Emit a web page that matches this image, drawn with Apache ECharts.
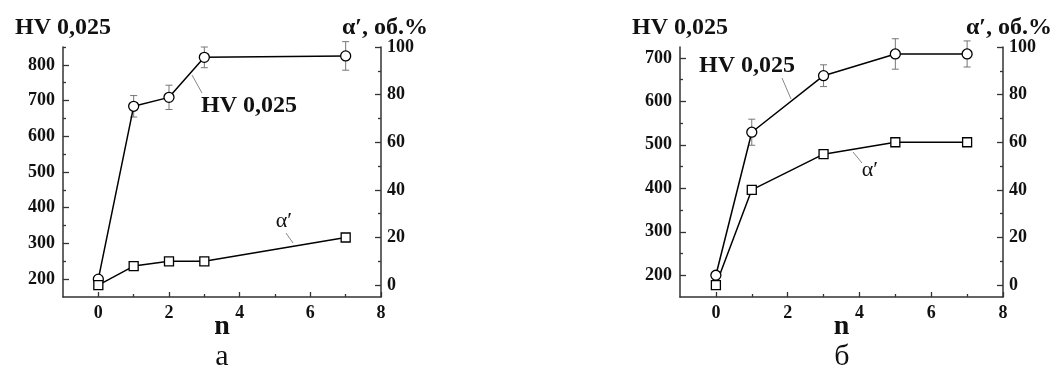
<!DOCTYPE html>
<html><head><meta charset="utf-8">
<script src="https://cdn.jsdelivr.net/npm/echarts@6/dist/echarts.min.js"></script>
<style>html,body{margin:0;padding:0;background:#fff}#c{width:1056px;height:369px}</style>
</head><body><div id="c"></div>
<script>
// ---- data ----
const nA = [0, 1, 2, 3, 7];
const hvA = [200, 684, 709, 821, 825];
const hvErrA = [0, 30, 34, 29, 40];
const alphaA = [0, 8, 10, 10, 20];

const nB = [0, 1, 3, 5, 7];
const hvB = [200, 529, 659, 709, 709];
const hvErrB = [0, 30, 25, 35, 30];
const alphaB = [0, 40, 55, 60, 60];

const xTicks = [0, 2, 4, 6, 8];
const xMinor = [1, 3, 5, 7];
const hvTicksA = [200, 300, 400, 500, 600, 700, 800];
const hvMinorA = [250, 350, 450, 550, 650, 750, 850];
const hvTicksB = [200, 300, 400, 500, 600, 700];
const hvMinorB = [250, 350, 450, 550, 650];
const alphaTicks = [0, 20, 40, 60, 80, 100];
const alphaMinor = [10, 30, 50, 70, 90];

// ---- style ----
const SERIF = "'Liberation Serif','Times New Roman',serif";
const AX = '#333';
const TXT = '#111';

function mainX(gi, name) {
  return {
    type: 'value', gridIndex: gi, position: 'bottom', offset: 0, min: -1, max: 8,
    axisLine: { show: true, onZero: false, lineStyle: { color: AX, width: 1.5 } },
    axisTick: { show: true, inside: true, length: 5, customValues: xTicks, lineStyle: { color: AX, width: 1.3 } },
    axisLabel: { show: true, customValues: xTicks, margin: 7, fontFamily: SERIF, fontWeight: 'bold', fontSize: 18, color: TXT },
    splitLine: { show: false },
    name: name, nameLocation: 'middle', nameGap: 16, nameMoveOverlap: false,
    nameTextStyle: { fontFamily: SERIF, fontWeight: 'bold', fontSize: 28, color: TXT }
  };
}
function minorX(gi) {
  return {
    type: 'value', gridIndex: gi, position: 'bottom', offset: 0, min: -1, max: 8,
    axisLine: { show: false, onZero: false },
    axisTick: { show: true, inside: true, length: 3, customValues: xMinor, lineStyle: { color: AX, width: 1.3 } },
    axisLabel: { show: false }, splitLine: { show: false }
  };
}
function mainY(gi, pos, min, max, ticks, name, margin, pad) {
  return {
    type: 'value', gridIndex: gi, position: pos, offset: 0, min: min, max: max,
    axisLine: { show: true, onZero: false, lineStyle: { color: AX, width: 1.5 } },
    axisTick: { show: true, inside: true, length: 6, customValues: ticks, lineStyle: { color: AX, width: 1.3 } },
    axisLabel: { show: true, customValues: ticks, margin: margin, fontFamily: SERIF, fontWeight: 'bold', fontSize: 18, color: TXT },
    splitLine: { show: false },
    name: name, nameLocation: 'end', nameGap: 7, nameMoveOverlap: false,
    nameTextStyle: { fontFamily: SERIF, fontWeight: 'bold', fontSize: 24, color: TXT, align: 'center', padding: pad }
  };
}
function minorY(gi, pos, min, max, ticks) {
  return {
    type: 'value', gridIndex: gi, position: pos, offset: 0, min: min, max: max,
    axisLine: { show: false, onZero: false },
    axisTick: { show: true, inside: true, length: 3, customValues: ticks, lineStyle: { color: AX, width: 1.3 } },
    axisLabel: { show: false }, splitLine: { show: false }
  };
}
function pairs(xs, ys) { return xs.map((x, i) => [x, ys[i]]); }

function hvSeries(xi, yi, xs, ys) {
  return {
    type: 'line', xAxisIndex: xi, yAxisIndex: yi, data: pairs(xs, ys),
    symbol: 'circle', symbolSize: 10, showSymbol: true,
    itemStyle: { color: '#fff', borderColor: '#000', borderWidth: 1.3 },
    lineStyle: { color: '#000', width: 1.5 }, z: 3, animation: false, silent: true
  };
}
function alphaSeries(xi, yi, xs, ys) {
  return {
    type: 'line', xAxisIndex: xi, yAxisIndex: yi, data: pairs(xs, ys),
    symbol: 'rect', symbolSize: 9, showSymbol: true,
    itemStyle: { color: '#fff', borderColor: '#000', borderWidth: 1.3 },
    lineStyle: { color: '#000', width: 1.5 }, z: 3, animation: false, silent: true
  };
}
function errSeries(xi, yi, xs, ys, es) {
  const d = [];
  xs.forEach((x, i) => { if (es[i] > 0) d.push([x, ys[i] - es[i], ys[i] + es[i]]); });
  return {
    type: 'custom', xAxisIndex: xi, yAxisIndex: yi, data: d, z: 2, silent: true, animation: false,
    encode: { x: 0, y: [1, 2] },
    renderItem: function (params, api) {
      const lo = api.coord([api.value(0), api.value(1)]);
      const hi = api.coord([api.value(0), api.value(2)]);
      const w = 3.5;
      const st = { stroke: '#777', lineWidth: 1 };
      return {
        type: 'group', children: [
          { type: 'line', shape: { x1: lo[0], y1: lo[1], x2: hi[0], y2: hi[1] }, style: st },
          { type: 'line', shape: { x1: lo[0] - w, y1: lo[1], x2: lo[0] + w, y2: lo[1] }, style: st },
          { type: 'line', shape: { x1: hi[0] - w, y1: hi[1], x2: hi[0] + w, y2: hi[1] }, style: st }
        ]
      };
    }
  };
}

function txt(x, y, s, size, weight) {
  return { type: 'text', x: x, y: y, silent: true,
    style: { text: s, fontFamily: SERIF, fontSize: size, fontWeight: weight, fill: TXT, align: 'center', verticalAlign: 'middle' } };
}
function lead(x1, y1, x2, y2) {
  return { type: 'line', silent: true, shape: { x1: x1, y1: y1, x2: x2, y2: y2 }, style: { stroke: '#888', lineWidth: 1 } };
}

const chart = echarts.init(document.getElementById('c'), null, { renderer: 'canvas' });
chart.setOption({
  backgroundColor: '#fff',
  animation: false,
  grid: [
    { left: 63, right: 675, top: 47, bottom: 72 },
    { left: 680, right: 53, top: 47, bottom: 72 }
  ],
  xAxis: [mainX(0, 'n'), minorX(0), mainX(1, 'n'), minorX(1)],
  yAxis: [
    mainY(0, 'left', 150, 850, hvTicksA, 'HV 0,025', 8, [0, 0, 0, 0]),
    minorY(0, 'left', 150, 850, hvMinorA),
    mainY(0, 'right', -5, 100, alphaTicks, 'α′, об.%', 6, [0, 0, 0, 8]),
    minorY(0, 'right', -5, 100, alphaMinor),
    mainY(1, 'left', 150, 725, hvTicksB, 'HV 0,025', 8, [0, 0, 0, 0]),
    minorY(1, 'left', 150, 725, hvMinorB),
    mainY(1, 'right', -5, 100, alphaTicks, 'α′, об.%', 6, [0, 0, 0, 12]),
    minorY(1, 'right', -5, 100, alphaMinor)
  ],
  series: [
    errSeries(0, 0, nA, hvA, hvErrA),
    hvSeries(0, 0, nA, hvA),
    alphaSeries(0, 2, nA, alphaA),
    errSeries(2, 4, nB, hvB, hvErrB),
    hvSeries(2, 4, nB, hvB),
    alphaSeries(2, 6, nB, alphaB)
  ],
  graphic: [
    txt(249, 106, 'HV 0,025', 24, 'bold'),
    lead(192, 75, 202, 93),
    txt(284, 221, 'α′', 22, 'normal'),
    lead(286, 233, 293, 243),
    txt(222, 357, 'а', 30, 'normal'),
    txt(747, 66, 'HV 0,025', 24, 'bold'),
    lead(782, 78, 791, 99),
    txt(870, 170, 'α′', 22, 'normal'),
    lead(853, 152, 862, 163),
    txt(842, 357, 'б', 30, 'normal')
  ]
});
</script>
</body></html>
